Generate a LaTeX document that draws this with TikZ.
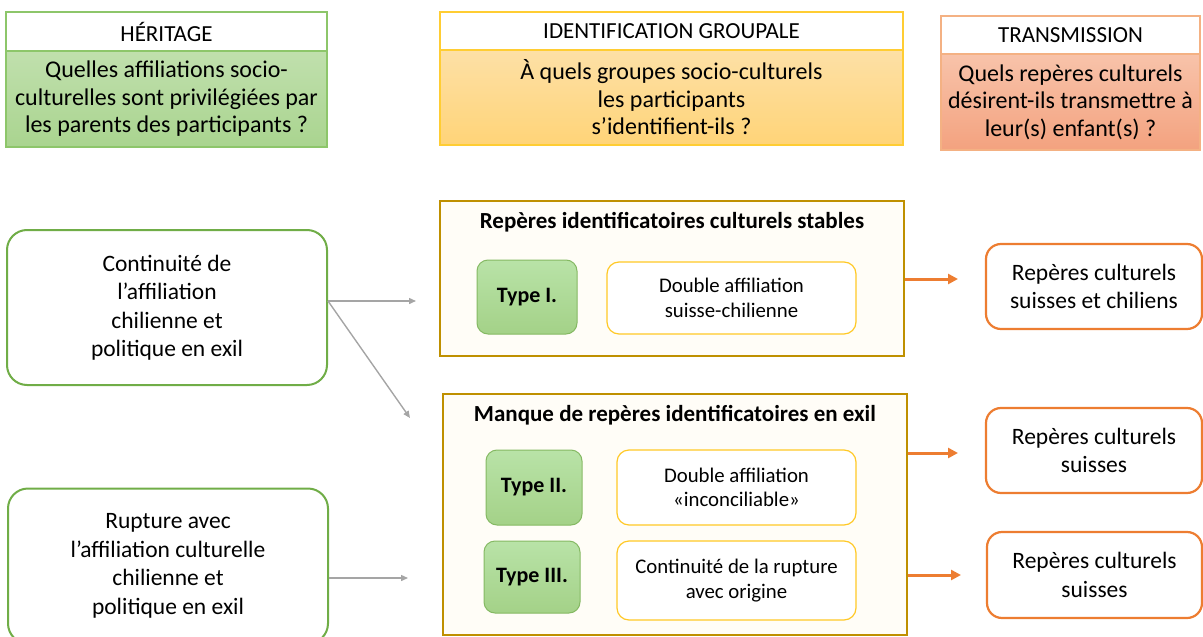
\documentclass[tikz,border=0pt]{standalone}
\usepackage{fontspec}
\setmainfont{Carlito}
\usetikzlibrary{arrows.meta,calc}
\definecolor{grn}{HTML}{70AD47}
\definecolor{grnlt}{HTML}{8DC66A}
\definecolor{gold}{HTML}{FFC000}
\definecolor{dgold}{HTML}{BF9000}
\definecolor{orng}{HTML}{ED7D31}
\definecolor{salm}{HTML}{F4B183}
\definecolor{gry}{HTML}{A5A5A5}
\definecolor{cream}{HTML}{FFFDF7}
\definecolor{yeltop}{HTML}{FDE0A6}
\definecolor{yelbot}{HTML}{FFD478}
\definecolor{saltop}{HTML}{F8C3AA}
\definecolor{salbot}{HTML}{F3A27F}
\tikzset{
  x=1pt,y=-1pt,
  box/.style={draw,rectangle,inner sep=0pt,align=center,text=black},
  hdr/.style={box,fill=white,line width=1.2pt,font=\fontsize{23}{27}\selectfont},
  qbody/.style={box,line width=1.2pt,font=\fontsize{24}{27.5}\selectfont},
  leftbox/.style={box,draw=grn,line width=2pt,rounded corners=20pt,fill=white,font=\fontsize{23.5}{28.5}\selectfont},
  bigbox/.style={box,draw=dgold,line width=2.2pt,fill=cream},
  bigtitle/.style={inner sep=0pt,font=\bfseries\fontsize{23}{27}\selectfont},
  typebox/.style={box,draw=grn!85,line width=1pt,rounded corners=11pt,top color=green!10!grnlt!55,bottom color=grnlt!80,font=\bfseries\fontsize{22}{26}\selectfont},
  affbox/.style={box,draw=gold!85,line width=1.2pt,rounded corners=12pt,fill=white,font=\fontsize{20.8}{24.5}\selectfont},
  rightbox/.style={box,draw=orng,line width=2.2pt,rounded corners=15pt,fill=white,font=\fontsize{23.5}{28.5}\selectfont},
  garrow/.style={draw=gry,line width=1.4pt,-{Triangle[length=7pt,width=6pt]}},
  oarrow/.style={draw=orng,line width=3pt,-{Triangle[length=10pt,width=10pt]}}
}
\begin{document}
\begin{tikzpicture}
\useasboundingbox (0,0) rectangle (1203,637);
% headers
\node[hdr,draw=grnlt,minimum width=321pt,minimum height=39pt] (h1) at (166.5,31.5) {HÉRITAGE};
\node[qbody,draw=grnlt,top color=grnlt!55,bottom color=grnlt!75,minimum width=321pt,minimum height=96pt] (b1) at (166.5,99) {Quelles affiliations socio-\\culturelles sont privilégiées par\\les parents des participants ?};
\node[hdr,draw=gold!80,minimum width=463pt,minimum height=38pt] (h2) at (671.5,31) {IDENTIFICATION GROUPALE};
\node[qbody,draw=gold!80,top color=yeltop,bottom color=yelbot,minimum width=463pt,minimum height=95pt] (b2) at (671.5,97.5) {À quels groupes socio-culturels\\les participants\\s’identifient-ils ?};
\node[hdr,draw=salm,minimum width=259pt,minimum height=38pt] (h3) at (1070.5,35) {TRANSMISSION};
\node[qbody,draw=salm,top color=saltop,bottom color=salbot,minimum width=259pt,minimum height=96pt] (b3) at (1070.5,102) {Quels repères culturels\\désirent-ils transmettre à\\leur(s) enfant(s) ?};
% left boxes
\node[leftbox,minimum width=320pt,minimum height=155pt] (cont) at (167,307.5) {Continuité de\\l’affiliation\\chilienne et\\politique en exil};
\node[leftbox,minimum width=320pt,minimum height=155pt] (rupt) at (168,566) {Rupture avec\\l’affiliation culturelle\\chilienne et\\politique en exil};
% middle big boxes
\node[bigbox,minimum width=464pt,minimum height=155pt] (stable) at (672,278.5) {};
\node[bigtitle] (stablet) at (672,222) {Repères identificatoires culturels stables};
\node[typebox,minimum width=100pt,minimum height=74pt] (t1) at (527,297) {Type I.};
\node[affbox,minimum width=249pt,minimum height=72pt] (d1) at (731.5,298) {Double affiliation\\suisse-chilienne};
\node[bigbox,minimum width=464pt,minimum height=241pt] (manque) at (675,514.5) {};
\node[bigtitle] (manquet) at (675,415) {Manque de repères identificatoires en exil};
\node[typebox,minimum width=96pt,minimum height=75pt] (t2) at (534,487.5) {Type II.};
\node[affbox,minimum width=239pt,minimum height=75pt] (d2) at (736.5,487.5) {Double affiliation\\«inconciliable»};
\node[typebox,minimum width=96pt,minimum height=72pt] (t3) at (532,577) {Type III.};
\node[affbox,minimum width=239pt,minimum height=79pt] (d3) at (736.5,580.5) {Continuité de la rupture\\avec origine};
% right boxes
\node[rightbox,minimum width=216pt,minimum height=85pt] (r1) at (1094,286.5) {Repères culturels\\suisses et chiliens};
\node[rightbox,minimum width=216pt,minimum height=85pt] (r2) at (1094,450.5) {Repères culturels\\suisses};
\node[rightbox,minimum width=215pt,minimum height=86pt] (r3) at (1094.5,575) {Repères culturels\\suisses};
% arrows
\coordinate (g1) at (416,301);
\coordinate (g2) at (410,418);
\coordinate (g3) at (408,578);
\draw[garrow] (cont.east |- g1) -- (g1);
\draw[garrow] (cont.east |- g1) -- (g2);
\draw[garrow] (rupt.east |- g3) -- (g3);
\coordinate (o1) at (958,279);
\coordinate (o2) at (958,453);
\coordinate (o3) at (961,575);
\draw[oarrow] (stable.east |- o1) -- (o1);
\draw[oarrow] (manque.east |- o2) -- (o2);
\draw[oarrow] (manque.east |- o3) -- (o3);
\end{tikzpicture}
\end{document}
